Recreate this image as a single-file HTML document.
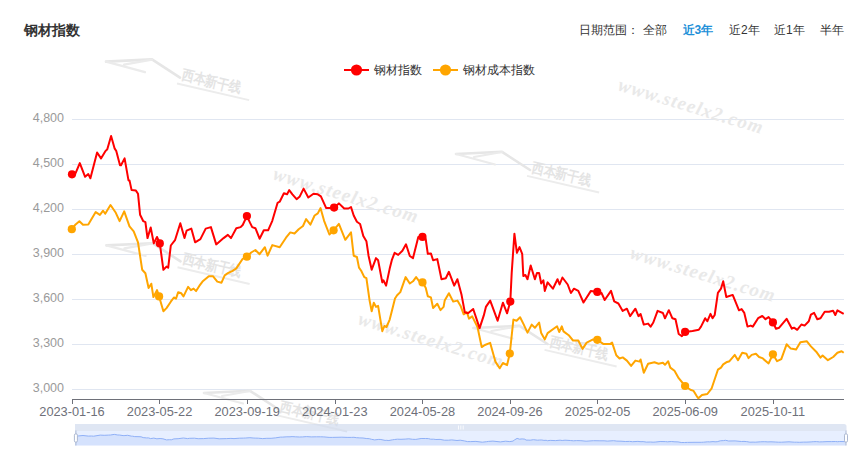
<!DOCTYPE html>
<html><head><meta charset="utf-8"><style>
html,body{margin:0;padding:0;background:#fff;width:851px;height:474px;overflow:hidden;}
svg{position:absolute;left:0;top:0;font-family:"Liberation Sans",sans-serif;}
.t{position:absolute;font-family:"Liberation Sans",sans-serif;white-space:nowrap;}
</style></head><body>
<svg width="851" height="474" viewBox="0 0 851 474">
<line x1="72" y1="119.5" x2="844" y2="119.5" stroke="#E0E6F1" stroke-width="1"/><line x1="72" y1="164.5" x2="844" y2="164.5" stroke="#E0E6F1" stroke-width="1"/><line x1="72" y1="209.5" x2="844" y2="209.5" stroke="#E0E6F1" stroke-width="1"/><line x1="72" y1="254.5" x2="844" y2="254.5" stroke="#E0E6F1" stroke-width="1"/><line x1="72" y1="299.5" x2="844" y2="299.5" stroke="#E0E6F1" stroke-width="1"/><line x1="72" y1="344.5" x2="844" y2="344.5" stroke="#E0E6F1" stroke-width="1"/><line x1="72" y1="389.5" x2="844" y2="389.5" stroke="#E0E6F1" stroke-width="1"/>
<text x="617" y="90" transform="rotate(17 617 90)" font-family="Liberation Serif" font-style="italic" font-weight="bold" font-size="19" fill="#e9e9e9" letter-spacing="1.2">www.steelx2.com</text><text x="272" y="179" transform="rotate(17 272 179)" font-family="Liberation Serif" font-style="italic" font-weight="bold" font-size="19" fill="#e9e9e9" letter-spacing="1.2">www.steelx2.com</text><text x="629" y="258" transform="rotate(17 629 258)" font-family="Liberation Serif" font-style="italic" font-weight="bold" font-size="19" fill="#e9e9e9" letter-spacing="1.2">www.steelx2.com</text><text x="357" y="324" transform="rotate(17 357 324)" font-family="Liberation Serif" font-style="italic" font-weight="bold" font-size="19" fill="#e9e9e9" letter-spacing="1.2">www.steelx2.com</text><g transform="translate(106,61.6)"><path d="M0,0 L46,-2.2 L74,16" fill="none" stroke="#e6e6e6" stroke-width="2.6" stroke-linejoin="round" stroke-linecap="round"/><path d="M0,0 L39,10.5 M18,3 L46,-2" fill="none" stroke="#ebebeb" stroke-width="2.2" stroke-linecap="round"/><g transform="translate(78,5) rotate(13)"><text x="0" y="12" font-family="Liberation Sans" font-size="13" font-weight="bold" fill="#e4e4e4" transform="scale(0.95,1.1)">西本新干线</text><rect x="-3" y="17" width="74" height="2" fill="#ececec"/></g></g><g transform="translate(456,154)"><path d="M0,0 L46,-2.2 L74,16" fill="none" stroke="#e6e6e6" stroke-width="2.6" stroke-linejoin="round" stroke-linecap="round"/><path d="M0,0 L39,10.5 M18,3 L46,-2" fill="none" stroke="#ebebeb" stroke-width="2.2" stroke-linecap="round"/><g transform="translate(78,5) rotate(13)"><text x="0" y="12" font-family="Liberation Sans" font-size="13" font-weight="bold" fill="#e4e4e4" transform="scale(0.95,1.1)">西本新干线</text><rect x="-3" y="17" width="74" height="2" fill="#ececec"/></g></g><g transform="translate(473.5,328)"><path d="M0,0 L46,-2.2 L74,16" fill="none" stroke="#e6e6e6" stroke-width="2.6" stroke-linejoin="round" stroke-linecap="round"/><path d="M0,0 L39,10.5 M18,3 L46,-2" fill="none" stroke="#ebebeb" stroke-width="2.2" stroke-linecap="round"/><g transform="translate(78,5) rotate(13)"><text x="0" y="12" font-family="Liberation Sans" font-size="13" font-weight="bold" fill="#e4e4e4" transform="scale(0.95,1.1)">西本新干线</text><rect x="-3" y="17" width="74" height="2" fill="#ececec"/></g></g><g transform="translate(204,393)"><path d="M0,0 L46,-2.2 L74,16" fill="none" stroke="#e6e6e6" stroke-width="2.6" stroke-linejoin="round" stroke-linecap="round"/><path d="M0,0 L39,10.5 M18,3 L46,-2" fill="none" stroke="#ebebeb" stroke-width="2.2" stroke-linecap="round"/><g transform="translate(78,5) rotate(13)"><text x="0" y="12" font-family="Liberation Sans" font-size="13" font-weight="bold" fill="#e4e4e4" transform="scale(0.95,1.1)">西本新干线</text><rect x="-3" y="17" width="74" height="2" fill="#ececec"/></g></g><g transform="translate(106.5,245.4)"><path d="M0,0 L46,-2.2 L74,16" fill="none" stroke="#e6e6e6" stroke-width="2.6" stroke-linejoin="round" stroke-linecap="round"/><path d="M0,0 L39,10.5 M18,3 L46,-2" fill="none" stroke="#ebebeb" stroke-width="2.2" stroke-linecap="round"/><g transform="translate(78,5) rotate(13)"><text x="0" y="12" font-family="Liberation Sans" font-size="13" font-weight="bold" fill="#e4e4e4" transform="scale(0.95,1.1)">西本新干线</text><rect x="-3" y="17" width="74" height="2" fill="#ececec"/></g></g>
<text x="64" y="122.0" text-anchor="end" font-size="12.5" fill="#9a9a9a">4,800</text><text x="64" y="167.0" text-anchor="end" font-size="12.5" fill="#9a9a9a">4,500</text><text x="64" y="212.0" text-anchor="end" font-size="12.5" fill="#9a9a9a">4,200</text><text x="64" y="257.0" text-anchor="end" font-size="12.5" fill="#9a9a9a">3,900</text><text x="64" y="302.0" text-anchor="end" font-size="12.5" fill="#9a9a9a">3,600</text><text x="64" y="347.0" text-anchor="end" font-size="12.5" fill="#9a9a9a">3,300</text><text x="64" y="392.0" text-anchor="end" font-size="12.5" fill="#9a9a9a">3,000</text>
<line x1="72" y1="399.5" x2="844" y2="399.5" stroke="#6E7079" stroke-width="1"/><line x1="72.5" y1="399.5" x2="72.5" y2="404" stroke="#6E7079" stroke-width="1"/><line x1="159.5" y1="399.5" x2="159.5" y2="404" stroke="#6E7079" stroke-width="1"/><line x1="247.5" y1="399.5" x2="247.5" y2="404" stroke="#6E7079" stroke-width="1"/><line x1="335.5" y1="399.5" x2="335.5" y2="404" stroke="#6E7079" stroke-width="1"/><line x1="422.5" y1="399.5" x2="422.5" y2="404" stroke="#6E7079" stroke-width="1"/><line x1="510.5" y1="399.5" x2="510.5" y2="404" stroke="#6E7079" stroke-width="1"/><line x1="597.5" y1="399.5" x2="597.5" y2="404" stroke="#6E7079" stroke-width="1"/><line x1="685.5" y1="399.5" x2="685.5" y2="404" stroke="#6E7079" stroke-width="1"/><line x1="773.5" y1="399.5" x2="773.5" y2="404" stroke="#6E7079" stroke-width="1"/><text x="72.0" y="416" text-anchor="middle" font-size="12.8" fill="#6E7079">2023-01-16</text><text x="159.6" y="416" text-anchor="middle" font-size="12.8" fill="#6E7079">2023-05-22</text><text x="247.2" y="416" text-anchor="middle" font-size="12.8" fill="#6E7079">2023-09-19</text><text x="334.79999999999995" y="416" text-anchor="middle" font-size="12.8" fill="#6E7079">2024-01-23</text><text x="422.4" y="416" text-anchor="middle" font-size="12.8" fill="#6E7079">2024-05-28</text><text x="510.0" y="416" text-anchor="middle" font-size="12.8" fill="#6E7079">2024-09-26</text><text x="597.5999999999999" y="416" text-anchor="middle" font-size="12.8" fill="#6E7079">2025-02-05</text><text x="685.1999999999999" y="416" text-anchor="middle" font-size="12.8" fill="#6E7079">2025-06-09</text><text x="772.8" y="416" text-anchor="middle" font-size="12.8" fill="#6E7079">2025-10-11</text>
<path d="M71.8,229.2 L75.6,224.4 L79.4,221.2 L83.0,224.8 L88.3,224.4 L95.7,212.1 L99.9,214.9 L103.1,210.7 L105.2,213.8 L110.5,205.0 L115.8,212.8 L119.6,221.2 L124.2,211.3 L129.5,226.4 L133.7,231.3 L138.0,242.3 L142.2,269.8 L145.4,273.2 L148.6,288.0 L151.3,283.7 L153.4,297.1 L157.0,290.1 L159.1,296.4 L161.2,303.8 L163.4,311.2 L166.5,308.1 L170.8,301.7 L173.9,297.5 L176.0,298.6 L178.2,292.2 L181.3,293.3 L183.5,296.4 L188.1,286.9 L190.9,290.1 L193.6,288.6 L196.1,291.1 L199.3,285.9 L202.5,281.6 L208.8,276.3 L213.1,276.3 L217.3,281.6 L221.5,282.7 L224.7,275.3 L227.9,273.2 L232.1,271.1 L236.3,268.4 L242.7,258.8 L246.9,256.7 L251.2,252.5 L255.4,250.0 L259.6,254.2 L264.9,247.2 L267.6,255.7 L272.3,245.1 L279.7,247.2 L286.0,237.7 L290.3,232.4 L294.5,233.5 L298.7,229.2 L303.0,226.0 L306.1,219.1 L310.4,224.6 L314.6,215.5 L317.8,213.4 L320.5,208.1 L324.1,220.8 L329.4,234.5 L333.6,230.3 L338.9,223.9 L345.3,239.8 L351.0,232.4 L353.7,255.7 L356.9,257.0 L359.0,267.6 L361.2,270.8 L364.3,277.1 L366.4,278.2 L369.6,300.6 L371.7,311.2 L373.8,302.7 L376.0,306.9 L378.1,305.9 L382.3,331.2 L384.4,326.0 L386.5,327.0 L389.7,319.6 L391.8,311.2 L395.0,298.5 L397.1,295.3 L400.3,292.1 L405.6,277.1 L409.8,283.5 L413.0,281.3 L416.1,277.1 L419.3,281.3 L422.5,282.4 L425.7,287.7 L427.8,296.3 L430.9,297.4 L433.1,308.0 L437.3,303.7 L440.5,310.1 L443.6,306.9 L444.7,300.6 L448.9,293.2 L453.2,301.6 L457.4,300.6 L460.6,305.9 L463.7,314.3 L466.9,312.2 L469.0,318.6 L472.2,316.4 L477.5,327.0 L481.7,347.1 L484.9,345.0 L490.2,342.9 L495.5,361.9 L499.7,368.3 L502.9,363.0 L507.1,365.1 L509.8,353.5 L513.4,319.6 L516.6,320.7 L520.1,317.2 L523.3,323.6 L527.5,332.6 L531.7,324.6 L534.9,327.8 L539.1,322.5 L541.2,333.1 L544.8,339.4 L547.6,333.1 L557.1,326.3 L559.2,332.0 L561.8,326.3 L563.5,331.4 L568.7,335.2 L573.0,340.5 L578.3,340.5 L582.5,348.9 L586.7,342.6 L593.1,339.4 L597.3,339.8 L603.6,344.1 L610.0,344.1 L612.1,342.6 L616.3,355.3 L619.5,358.5 L622.7,357.4 L626.9,360.6 L631.1,365.9 L635.4,360.6 L639.6,361.6 L640.6,359.5 L643.8,372.8 L648.1,363.7 L654.4,362.3 L658.6,363.7 L662.9,362.7 L665.0,364.8 L668.2,361.2 L670.3,367.6 L674.5,370.8 L678.7,378.2 L685.1,386.0 L690.4,389.8 L693.6,390.9 L696.7,396.1 L698.4,398.3 L702.0,395.1 L707.3,394.0 L711.5,388.7 L717.9,369.7 L721.0,367.6 L723.2,364.4 L726.3,362.3 L729.5,361.2 L734.8,354.9 L738.0,360.2 L742.2,352.8 L746.4,353.8 L748.5,358.1 L751.7,354.9 L755.9,353.8 L759.1,357.0 L762.3,358.1 L768.6,363.4 L772.9,354.3 L777.1,361.2 L781.3,359.1 L786.6,344.3 L790.8,348.6 L796.1,349.6 L800.4,342.2 L806.7,341.2 L810.9,346.4 L816.2,351.7 L820.5,357.6 L822.6,355.5 L827.9,360.2 L833.2,357.0 L837.4,352.8 L841.6,351.3 L843.7,352.8" fill="none" stroke="#FFA500" stroke-width="2" stroke-linejoin="round"/><path d="M71.8,174.3 L75.6,173.2 L79.8,163.1 L85.1,176.8 L88.3,174.1 L90.4,178.3 L97.1,152.5 L101.0,158.4 L105.2,151.4 L107.3,149.3 L111.1,136.0 L114.7,148.7 L116.2,150.8 L120.0,165.2 L121.0,165.2 L124.6,158.4 L128.5,180.4 L129.5,180.4 L131.6,190.1 L135.9,190.6 L138.0,193.7 L140.1,214.8 L143.3,221.2 L145.4,222.2 L147.5,238.1 L150.7,227.5 L153.8,243.4 L157.0,237.0 L159.8,243.4 L163.4,269.8 L166.5,266.6 L168.2,267.7 L170.8,245.5 L175.0,240.2 L180.3,223.3 L184.5,238.1 L186.6,230.7 L191.3,228.6 L195.1,242.3 L200.4,239.1 L205.7,228.6 L210.9,227.1 L216.2,244.4 L223.6,238.1 L227.9,234.9 L231.0,238.1 L236.3,228.2 L240.6,227.1 L242.7,225.0 L246.9,216.1 L250.1,222.9 L252.2,227.1 L255.4,228.2 L259.6,238.7 L263.8,230.3 L268.1,230.3 L272.3,220.8 L277.6,202.8 L279.7,201.7 L283.9,193.3 L287.1,194.3 L289.2,190.1 L292.4,194.3 L296.6,199.2 L299.8,196.4 L303.6,188.6 L308.3,197.5 L313.5,193.7 L317.8,194.3 L320.9,196.4 L326.2,208.1 L329.4,208.1 L334.1,207.6 L338.9,203.4 L344.2,208.5 L348.4,208.5 L351.0,207.0 L353.7,215.5 L356.9,221.8 L360.1,224.0 L363.3,235.9 L366.4,241.2 L368.6,256.0 L371.7,269.7 L376.0,258.1 L378.1,260.2 L382.3,282.4 L383.4,280.3 L386.1,285.6 L389.7,268.6 L391.8,260.2 L394.6,252.8 L398.2,254.9 L402.4,250.7 L406.0,244.3 L409.8,256.0 L413.0,258.1 L418.3,236.9 L422.5,236.9 L425.7,239.0 L427.8,253.8 L430.9,253.4 L433.1,260.2 L437.3,259.1 L441.5,279.2 L445.8,278.2 L448.9,271.8 L454.2,285.6 L457.4,279.2 L461.6,295.1 L464.8,312.2 L468.0,313.3 L473.2,309.0 L479.6,328.1 L483.8,315.4 L485.9,306.9 L490.2,300.6 L497.6,320.7 L502.9,302.7 L507.1,313.3 L510.3,301.6 L511.7,272.9 L514.4,233.7 L516.9,252.8 L519.5,247.1 L522.2,253.8 L523.3,276.0 L525.4,275.0 L527.5,279.2 L530.7,265.5 L534.9,279.2 L537.0,272.9 L539.1,272.9 L541.2,283.5 L543.4,280.3 L544.8,290.9 L547.6,282.4 L552.9,288.7 L557.5,279.2 L559.6,284.5 L562.4,277.5 L567.7,284.5 L570.9,293.0 L574.0,288.7 L578.3,290.9 L583.5,302.5 L590.9,290.9 L597.3,291.9 L601.5,293.0 L604.7,300.0 L611.0,290.9 L614.2,301.4 L618.4,303.5 L622.7,310.9 L626.9,308.7 L630.1,316.2 L635.4,308.7 L638.5,316.2 L640.6,314.0 L643.8,324.6 L648.1,323.6 L650.6,326.7 L653.3,322.5 L657.6,310.9 L662.9,313.0 L665.0,318.3 L668.8,310.2 L672.4,318.3 L675.5,319.3 L678.7,334.0 L681.9,336.1 L685.1,331.9 L692.5,330.9 L698.8,329.8 L701.0,326.6 L705.2,318.2 L707.3,321.3 L710.5,313.9 L712.6,318.2 L714.7,315.0 L717.9,292.8 L721.0,288.6 L723.2,281.2 L726.3,297.0 L732.7,294.9 L739.0,310.3 L741.6,309.1 L744.3,312.9 L747.5,326.6 L750.7,325.6 L752.8,326.6 L758.1,318.2 L762.3,316.0 L765.5,319.2 L768.6,317.1 L772.9,322.4 L776.0,328.7 L779.2,327.7 L786.6,318.8 L791.9,328.7 L794.0,327.7 L797.2,329.8 L801.4,324.5 L804.6,325.6 L808.8,321.3 L810.9,314.6 L814.1,312.9 L817.3,319.2 L820.5,318.2 L824.7,311.8 L829.0,311.8 L833.1,310.8 L835.3,315.0 L837.4,310.3 L843.7,313.9" fill="none" stroke="#FF0000" stroke-width="2" stroke-linejoin="round"/>
<circle cx="71.8" cy="229.2" r="4.1" fill="#FFA500"/><circle cx="159.1" cy="296.4" r="4.1" fill="#FFA500"/><circle cx="246.9" cy="256.7" r="4.1" fill="#FFA500"/><circle cx="333.6" cy="230.3" r="4.1" fill="#FFA500"/><circle cx="422.5" cy="282.4" r="4.1" fill="#FFA500"/><circle cx="509.8" cy="353.5" r="4.1" fill="#FFA500"/><circle cx="597.3" cy="339.8" r="4.1" fill="#FFA500"/><circle cx="685.1" cy="386" r="4.1" fill="#FFA500"/><circle cx="772.9" cy="354.3" r="4.1" fill="#FFA500"/><circle cx="72" cy="174.3" r="4.1" fill="#FF0000"/><circle cx="159.8" cy="243.4" r="4.1" fill="#FF0000"/><circle cx="246.9" cy="216.1" r="4.1" fill="#FF0000"/><circle cx="334.1" cy="207.6" r="4.1" fill="#FF0000"/><circle cx="422.5" cy="236.9" r="4.1" fill="#FF0000"/><circle cx="510.3" cy="301.6" r="4.1" fill="#FF0000"/><circle cx="597.3" cy="291.9" r="4.1" fill="#FF0000"/><circle cx="685.1" cy="331.9" r="4.1" fill="#FF0000"/><circle cx="772.9" cy="322.4" r="4.1" fill="#FF0000"/>
<path d="M75,424 L844,424 Q846.5,424 846.5,426.5 L846.5,431 L75,431 Z" fill="#D2DBEE" fill-opacity="0.7"/><rect x="75" y="431" width="771" height="14.5" fill="rgb(135,175,255)" fill-opacity="0.2"/><path d="M75,445.5 L75.0,436.0 L78.8,435.9 L83.0,435.5 L88.3,436.1 L91.5,436.0 L93.6,436.2 L100.3,435.1 L104.2,435.3 L108.4,435.1 L110.5,435.0 L114.3,434.4 L117.8,435.0 L119.3,435.0 L123.1,435.6 L124.1,435.6 L127.7,435.3 L131.6,436.2 L132.6,436.2 L134.7,436.6 L139.0,436.7 L141.1,436.8 L143.2,437.6 L146.4,437.9 L148.5,437.9 L150.6,438.6 L153.8,438.1 L156.9,438.8 L160.1,438.5 L162.9,438.8 L166.5,439.9 L169.6,439.7 L171.3,439.8 L173.9,438.9 L178.1,438.7 L183.4,438.0 L187.6,438.6 L189.7,438.3 L194.4,438.2 L198.2,438.7 L203.5,438.6 L208.7,438.2 L213.9,438.1 L219.2,438.8 L226.6,438.6 L230.9,438.4 L234.0,438.6 L239.3,438.2 L243.6,438.1 L245.7,438.0 L249.9,437.7 L253.1,438.0 L255.2,438.1 L258.4,438.2 L262.6,438.6 L266.8,438.3 L271.1,438.3 L275.3,437.9 L280.6,437.1 L282.7,437.1 L286.9,436.8 L290.0,436.8 L292.1,436.6 L295.3,436.8 L299.5,437.0 L302.7,436.9 L306.5,436.6 L311.2,436.9 L316.4,436.8 L320.7,436.8 L323.8,436.9 L329.1,437.4 L332.3,437.4 L337.0,437.3 L341.8,437.2 L347.1,437.4 L351.3,437.4 L353.9,437.3 L356.6,437.7 L359.8,437.9 L363.0,438.0 L366.2,438.5 L369.3,438.7 L371.5,439.3 L374.6,439.9 L378.8,439.4 L380.9,439.5 L385.1,440.4 L386.2,440.3 L388.9,440.5 L392.5,439.8 L394.6,439.5 L397.4,439.2 L401.0,439.3 L405.2,439.1 L408.8,438.8 L412.6,439.3 L415.8,439.4 L421.1,438.5 L425.3,438.5 L428.5,438.6 L430.6,439.2 L433.7,439.2 L435.9,439.5 L440.1,439.4 L444.3,440.2 L448.6,440.2 L451.7,439.9 L457.0,440.5 L460.2,440.2 L464.3,440.9 L467.5,441.6 L470.7,441.6 L475.9,441.4 L482.3,442.2 L486.5,441.7 L488.6,441.4 L492.9,441.1 L500.3,441.9 L505.6,441.2 L509.8,441.6 L513.0,441.1 L514.4,440.0 L517.1,438.4 L519.6,439.2 L522.2,438.9 L524.9,439.2 L526.0,440.1 L528.1,440.1 L530.2,440.2 L533.4,439.7 L537.6,440.2 L539.7,440.0 L541.8,440.0 L543.9,440.4 L546.1,440.3 L547.4,440.7 L550.2,440.4 L555.5,440.6 L560.1,440.2 L562.2,440.5 L565.0,440.2 L570.3,440.5 L573.5,440.8 L576.6,440.6 L580.9,440.7 L586.1,441.2 L593.5,440.7 L599.9,440.8 L604.1,440.8 L607.3,441.1 L613.6,440.7 L616.8,441.1 L621.0,441.2 L625.3,441.5 L629.5,441.4 L632.6,441.7 L637.9,441.4 L641.0,441.7 L643.1,441.6 L646.3,442.1 L650.6,442.0 L653.1,442.2 L655.8,442.0 L660.1,441.5 L665.4,441.6 L667.5,441.8 L671.3,441.5 L674.9,441.8 L678.0,441.9 L681.2,442.5 L684.4,442.5 L687.6,442.4 L695.0,442.3 L701.3,442.3 L703.5,442.2 L707.7,441.8 L709.8,441.9 L713.0,441.6 L715.1,441.8 L717.2,441.7 L720.3,440.8 L723.4,440.6 L725.6,440.3 L728.7,441.0 L735.1,440.9 L741.4,441.5 L744.0,441.4 L746.7,441.6 L749.9,442.2 L753.1,442.1 L755.2,442.2 L760.5,441.8 L764.7,441.7 L767.9,441.9 L771.0,441.8 L775.3,442.0 L778.4,442.2 L781.6,442.2 L789.0,441.8 L794.3,442.2 L796.4,442.2 L799.6,442.3 L803.7,442.1 L806.9,442.1 L811.1,441.9 L813.2,441.7 L816.4,441.6 L819.6,441.9 L822.8,441.8 L827.0,441.6 L831.3,441.6 L835.4,441.5 L837.6,441.7 L839.7,441.5 L846.0,441.6 L846,445.5 Z" fill="#8fb0f7" fill-opacity="0.2" stroke="none"/><polyline points="75.0,436.0 78.8,435.9 83.0,435.5 88.3,436.1 91.5,436.0 93.6,436.2 100.3,435.1 104.2,435.3 108.4,435.1 110.5,435.0 114.3,434.4 117.8,435.0 119.3,435.0 123.1,435.6 124.1,435.6 127.7,435.3 131.6,436.2 132.6,436.2 134.7,436.6 139.0,436.7 141.1,436.8 143.2,437.6 146.4,437.9 148.5,437.9 150.6,438.6 153.8,438.1 156.9,438.8 160.1,438.5 162.9,438.8 166.5,439.9 169.6,439.7 171.3,439.8 173.9,438.9 178.1,438.7 183.4,438.0 187.6,438.6 189.7,438.3 194.4,438.2 198.2,438.7 203.5,438.6 208.7,438.2 213.9,438.1 219.2,438.8 226.6,438.6 230.9,438.4 234.0,438.6 239.3,438.2 243.6,438.1 245.7,438.0 249.9,437.7 253.1,438.0 255.2,438.1 258.4,438.2 262.6,438.6 266.8,438.3 271.1,438.3 275.3,437.9 280.6,437.1 282.7,437.1 286.9,436.8 290.0,436.8 292.1,436.6 295.3,436.8 299.5,437.0 302.7,436.9 306.5,436.6 311.2,436.9 316.4,436.8 320.7,436.8 323.8,436.9 329.1,437.4 332.3,437.4 337.0,437.3 341.8,437.2 347.1,437.4 351.3,437.4 353.9,437.3 356.6,437.7 359.8,437.9 363.0,438.0 366.2,438.5 369.3,438.7 371.5,439.3 374.6,439.9 378.8,439.4 380.9,439.5 385.1,440.4 386.2,440.3 388.9,440.5 392.5,439.8 394.6,439.5 397.4,439.2 401.0,439.3 405.2,439.1 408.8,438.8 412.6,439.3 415.8,439.4 421.1,438.5 425.3,438.5 428.5,438.6 430.6,439.2 433.7,439.2 435.9,439.5 440.1,439.4 444.3,440.2 448.6,440.2 451.7,439.9 457.0,440.5 460.2,440.2 464.3,440.9 467.5,441.6 470.7,441.6 475.9,441.4 482.3,442.2 486.5,441.7 488.6,441.4 492.9,441.1 500.3,441.9 505.6,441.2 509.8,441.6 513.0,441.1 514.4,440.0 517.1,438.4 519.6,439.2 522.2,438.9 524.9,439.2 526.0,440.1 528.1,440.1 530.2,440.2 533.4,439.7 537.6,440.2 539.7,440.0 541.8,440.0 543.9,440.4 546.1,440.3 547.4,440.7 550.2,440.4 555.5,440.6 560.1,440.2 562.2,440.5 565.0,440.2 570.3,440.5 573.5,440.8 576.6,440.6 580.9,440.7 586.1,441.2 593.5,440.7 599.9,440.8 604.1,440.8 607.3,441.1 613.6,440.7 616.8,441.1 621.0,441.2 625.3,441.5 629.5,441.4 632.6,441.7 637.9,441.4 641.0,441.7 643.1,441.6 646.3,442.1 650.6,442.0 653.1,442.2 655.8,442.0 660.1,441.5 665.4,441.6 667.5,441.8 671.3,441.5 674.9,441.8 678.0,441.9 681.2,442.5 684.4,442.5 687.6,442.4 695.0,442.3 701.3,442.3 703.5,442.2 707.7,441.8 709.8,441.9 713.0,441.6 715.1,441.8 717.2,441.7 720.3,440.8 723.4,440.6 725.6,440.3 728.7,441.0 735.1,440.9 741.4,441.5 744.0,441.4 746.7,441.6 749.9,442.2 753.1,442.1 755.2,442.2 760.5,441.8 764.7,441.7 767.9,441.9 771.0,441.8 775.3,442.0 778.4,442.2 781.6,442.2 789.0,441.8 794.3,442.2 796.4,442.2 799.6,442.3 803.7,442.1 806.9,442.1 811.1,441.9 813.2,441.7 816.4,441.6 819.6,441.9 822.8,441.8 827.0,441.6 831.3,441.6 835.4,441.5 837.6,441.7 839.7,441.5 846.0,441.6" fill="none" stroke="#8fb0f7" stroke-width="1"/><line x1="75.9" y1="430.5" x2="75.9" y2="445.5" stroke="#ACB8D1" stroke-width="1"/><rect x="74.4" y="433.8" width="3" height="8.4" rx="1.4" fill="#fff" stroke="#ACB8D1" stroke-width="1"/><line x1="846" y1="430.5" x2="846" y2="445.5" stroke="#ACB8D1" stroke-width="1"/><rect x="844.5" y="433.8" width="3" height="8.4" rx="1.4" fill="#fff" stroke="#ACB8D1" stroke-width="1"/><g stroke="#fff" stroke-width="0.8"><line x1="458.5" y1="425.5" x2="458.5" y2="429.5"/><line x1="460.8" y1="425.5" x2="460.8" y2="429.5"/><line x1="463.2" y1="425.5" x2="463.2" y2="429.5"/></g>
<line x1="344" y1="70" x2="369" y2="70" stroke="#FF0000" stroke-width="2"/><circle cx="356.5" cy="70" r="5.6" fill="#FF0000"/><text x="374" y="73.5" font-size="12" fill="#333">钢材指数</text><line x1="433" y1="70" x2="458" y2="70" stroke="#FFA500" stroke-width="2"/><circle cx="445.5" cy="70" r="5.6" fill="#FFA500"/><text x="463" y="73.5" font-size="12" fill="#333">钢材成本指数</text>
<text x="24" y="35" font-size="14" font-weight="bold" fill="#333">钢材指数</text>
<text x="579" y="34" font-size="12" fill="#333">日期范围：</text>
<text x="643" y="34" font-size="12" fill="#333">全部</text>
<text x="682.5" y="34" font-size="12" font-weight="bold" fill="#1E90D8">近3年</text>
<text x="729" y="34" font-size="12" fill="#333">近2年</text>
<text x="774" y="34" font-size="12" fill="#333">近1年</text>
<text x="820" y="34" font-size="12" fill="#333">半年</text>
</svg>
</body></html>
